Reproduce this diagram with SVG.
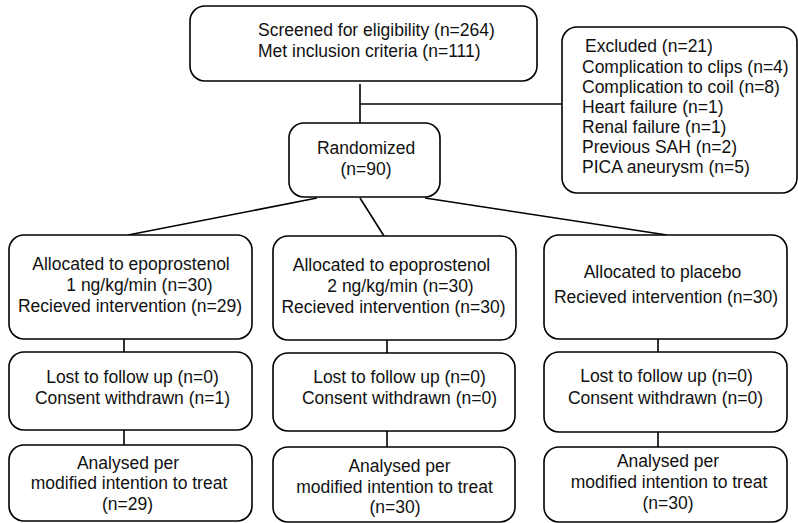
<svg xmlns="http://www.w3.org/2000/svg" width="798" height="523" viewBox="0 0 798 523">
<style>
.box{fill:#fff;stroke:#000;stroke-width:1.6}
.ln{fill:none;stroke:#000;stroke-width:1.6}
text{font-family:"Liberation Sans",Arial,sans-serif;font-size:17.5px;fill:#111}
.c{text-anchor:middle}
</style>
<rect width="798" height="523" fill="#fff"/>
<g id="connectors">
<line class="ln" x1="360" y1="84" x2="360" y2="123"/>
<line class="ln" x1="360" y1="104" x2="562" y2="104"/>
<line class="ln" x1="317" y1="198" x2="128" y2="235"/>
<line class="ln" x1="360" y1="198" x2="384" y2="236"/>
<line class="ln" x1="425" y1="198" x2="667" y2="235"/>
<line class="ln" x1="124" y1="339" x2="124" y2="352"/>
<line class="ln" x1="387" y1="340" x2="387" y2="353"/>
<line class="ln" x1="658" y1="339" x2="658" y2="352"/>
<line class="ln" x1="124" y1="430" x2="124" y2="445"/>
<line class="ln" x1="387" y1="431" x2="387" y2="447"/>
<line class="ln" x1="658" y1="432" x2="658" y2="447"/>
</g>
<g id="screened">
<rect class="box" x="190" y="6" width="347" height="75" rx="15"/>
<text x="258" y="36">Screened for eligibility (n=264)</text>
<text x="258" y="57">Met inclusion criteria (n=111)</text>
</g>
<g id="excluded">
<rect class="box" x="562" y="27" width="235" height="166" rx="15"/>
<text x="585" y="52">Excluded (n=21)</text>
<text x="582" y="73">Complication to clips (n=4)</text>
<text x="582" y="93">Complication to coil (n=8)</text>
<text x="582" y="113">Heart failure (n=1)</text>
<text x="582" y="133">Renal failure (n=1)</text>
<text x="582" y="153">Previous SAH (n=2)</text>
<text x="582" y="173">PICA aneurysm (n=5)</text>
</g>
<g id="randomized">
<rect class="box" x="289" y="123" width="151" height="74" rx="15"/>
<text class="c" x="366" y="154">Randomized</text>
<text class="c" x="366" y="175">(n=90)</text>
</g>
<g id="alloc1">
<rect class="box" x="9" y="235" width="243" height="104" rx="15"/>
<text class="c" x="131" y="270">Allocated to epoprostenol</text>
<text class="c" x="139.5" y="291">1 ng/kg/min (n=30)</text>
<text class="c" x="130" y="312">Recieved intervention (n=29)</text>
</g>
<g id="alloc2">
<rect class="box" x="273" y="236" width="243" height="104" rx="15"/>
<text class="c" x="391.5" y="271">Allocated to epoprostenol</text>
<text class="c" x="400.5" y="292">2 ng/kg/min (n=30)</text>
<text class="c" x="393.5" y="313">Recieved intervention (n=30)</text>
</g>
<g id="alloc3">
<rect class="box" x="544" y="235" width="243" height="104" rx="15"/>
<text class="c" x="662.5" y="278">Allocated to placebo</text>
<text class="c" x="666" y="303">Recieved intervention (n=30)</text>
</g>
<g id="lost1">
<rect class="box" x="9" y="352" width="243" height="78" rx="15"/>
<text class="c" x="132.5" y="383">Lost to follow up (n=0)</text>
<text class="c" x="132.5" y="404">Consent withdrawn (n=1)</text>
</g>
<g id="lost2">
<rect class="box" x="273" y="353" width="242" height="78" rx="15"/>
<text class="c" x="399.5" y="383">Lost to follow up (n=0)</text>
<text class="c" x="399.5" y="404">Consent withdrawn (n=0)</text>
</g>
<g id="lost3">
<rect class="box" x="544" y="352" width="243" height="80" rx="15"/>
<text class="c" x="666.5" y="382">Lost to follow up (n=0)</text>
<text class="c" x="665.5" y="404">Consent withdrawn (n=0)</text>
</g>
<g id="analysed1">
<rect class="box" x="9" y="445" width="243" height="76" rx="15"/>
<text class="c" x="128" y="469">Analysed per</text>
<text class="c" x="129" y="489">modified intention to treat</text>
<text class="c" x="127.5" y="510">(n=29)</text>
</g>
<g id="analysed2">
<rect class="box" x="273" y="447" width="242" height="75" rx="15"/>
<text class="c" x="399.5" y="472">Analysed per</text>
<text class="c" x="394.5" y="493">modified intention to treat</text>
<text class="c" x="395" y="513">(n=30)</text>
</g>
<g id="analysed3">
<rect class="box" x="544" y="447" width="243" height="75" rx="15"/>
<text class="c" x="668" y="467">Analysed per</text>
<text class="c" x="669" y="488">modified intention to treat</text>
<text class="c" x="668" y="509">(n=30)</text>
</g>
</svg>
